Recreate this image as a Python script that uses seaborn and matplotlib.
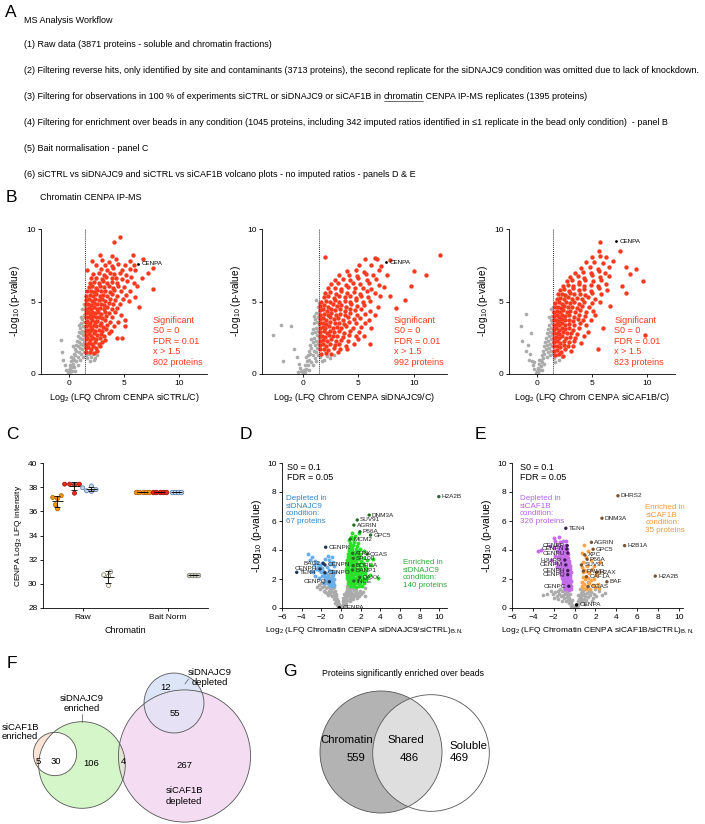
import numpy as np
import pandas as pd
import matplotlib
matplotlib.use("Agg")
import matplotlib.pyplot as plt
import seaborn as sns
from matplotlib.patches import Circle

W, H = 705, 824

# ---------------- panel A: workflow text
workflow_title = "MS Analysis Workflow"
workflow_steps = [
    "(1) Raw data (3871 proteins - soluble and chromatin fractions)",
    "(2) Filtering reverse hits, only identified by site and contaminants (3713 proteins), the second replicate for the siDNAJC9 condition was omitted due to lack of knockdown.",
    ("(3) Filtering for observations in 100 % of experiments siCTRL or siDNAJC9 or siCAF1B in ", "chromatin",
     " CENPA IP-MS replicates (1395 proteins)"),
    "(4) Filtering for enrichment over beads in any condition (1045 proteins, including 342 imputed ratios identified in \u22641 replicate in the bead only condition)  - panel B",
    "(5) Bait normalisation - panel C",
    "(6) siCTRL vs siDNAJC9 and siCTRL vs siCAF1B volcano plots - no imputed ratios - panels D & E",
]

# ---------------- panel B: enrichment over beads
b_names = ["siCTRL", "siDNAJC9", "siCAF1B"]
b_counts = [802, 992, 823]
b_cenpa = [(6.25, 7.6), (7.5, 7.7), (7.2, 9.15)]

b1_grey = [(-0.7, 2.35), (0.0, 0.1), (0.05, 0.25), (-0.1, 0.15), (0.1, 0.4), (-0.2, 0.3), (0.2, 0.2), (0.15, 0.6),
           (0.3, 0.5), (0.25, 0.9), (0.35, 1.1), (0.4, 0.7), (0.45, 1.4), (0.5, 1.0), (0.55, 1.7), (0.5, 0.5),
           (0.6, 1.3), (0.65, 2.0), (0.7, 0.9), (0.7, 1.6), (0.75, 2.3), (0.8, 1.2), (0.8, 1.9), (0.85, 2.6),
           (0.9, 1.5), (0.9, 2.2), (0.95, 2.9), (1.0, 1.0), (1.0, 1.8), (1.0, 2.5), (1.05, 3.2), (1.1, 1.4),
           (1.1, 2.1), (1.1, 2.8), (1.15, 3.5), (1.2, 1.7), (1.2, 2.4), (1.2, 3.0), (1.25, 3.8), (1.3, 1.2),
           (1.3, 2.0), (1.3, 2.7), (1.3, 3.3), (1.35, 4.1), (1.4, 1.5), (1.4, 2.2), (1.4, 2.9), (1.4, 3.6),
           (1.45, 4.4), (1.45, 1.9), (1.45, 2.6), (1.45, 3.2), (1.45, 3.9), (1.5, 4.7), (0.6, 0.2), (-0.35, 0.6),
           (-0.5, 1.0), (0.85, 0.6), (1.6, 1.3), (1.8, 1.4), (2.0, 1.2), (2.2, 1.35), (2.4, 1.1), (2.6, 1.3),
           (1.7, 1.1), (1.9, 0.9), (2.3, 0.95), (0.2, 1.2), (0.4, 1.9), (0.3, 0.2), (-0.6, 1.5), (0.95, 3.4),
           (1.1, 3.9), (1.25, 4.5), (1.35, 4.8)]
b1_red = [(1.6, 1.5), (1.9, 1.55), (2.3, 1.45), (2.6, 1.6),
          (1.55, 1.8), (1.75, 1.85), (2.0, 1.75), (2.2, 1.9), (2.5, 1.8), (2.8, 1.95),
          (1.6, 2.1), (1.8, 2.15), (2.1, 2.05), (2.4, 2.2), (2.7, 2.1), (3.0, 2.2),
          (1.55, 2.4), (1.7, 2.45), (1.95, 2.35), (2.2, 2.5), (2.5, 2.4), (2.8, 2.45), (3.3, 2.35), (4.4, 2.45), (4.8, 2.45),
          (1.6, 2.7), (1.85, 2.75), (2.05, 2.65), (2.3, 2.8), (2.6, 2.7), (2.9, 2.75), (3.2, 2.65), (3.6, 2.8),
          (1.55, 3.0), (1.75, 3.05), (1.95, 2.95), (2.15, 3.1), (2.4, 3.0), (2.7, 3.05), (3.0, 2.95), (3.4, 3.1), (3.8, 3.0),
          (1.6, 3.3), (1.8, 3.35), (2.0, 3.25), (2.25, 3.4), (2.5, 3.3), (2.8, 3.35), (3.1, 3.25), (3.5, 3.4), (4.1, 3.3), (5.1, 3.3),
          (1.55, 3.6), (1.7, 3.65), (1.9, 3.55), (2.1, 3.7), (2.35, 3.6), (2.6, 3.65), (2.9, 3.55), (3.3, 3.7), (3.7, 3.6), (4.5, 3.6),
          (1.6, 3.9), (1.8, 3.95), (2.0, 3.85), (2.2, 4.0), (2.45, 3.9), (2.75, 3.95), (3.0, 3.85), (3.4, 4.0), (3.9, 3.9), (5.05, 3.75),
          (1.55, 4.2), (1.75, 4.25), (1.95, 4.15), (2.15, 4.3), (2.4, 4.2), (2.65, 4.25), (2.95, 4.15), (3.25, 4.3), (3.6, 4.2), (4.2, 4.25), (4.7, 4.1),
          (1.6, 4.5), (1.8, 4.55), (2.0, 4.45), (2.3, 4.6), (2.55, 4.5), (2.85, 4.55), (3.15, 4.45), (3.5, 4.6), (3.9, 4.5), (4.4, 4.55), (6.35, 4.65),
          (1.55, 4.8), (1.75, 4.85), (2.05, 4.75), (2.3, 4.9), (2.6, 4.8), (2.9, 4.85), (3.2, 4.75), (3.6, 4.9), (4.0, 4.8), (4.6, 4.85), (5.45, 5.05),
          (1.6, 5.1), (1.85, 5.15), (2.1, 5.05), (2.4, 5.2), (2.7, 5.1), (3.0, 5.15), (3.3, 5.05), (3.7, 5.2), (4.2, 5.1), (4.9, 5.15),
          (1.6, 5.4), (1.9, 5.45), (2.2, 5.35), (2.5, 5.5), (2.8, 5.4), (3.1, 5.45), (3.5, 5.35), (3.9, 5.5), (4.4, 5.4), (5.2, 5.45), (6.0, 5.3),
          (1.7, 5.7), (2.0, 5.75), (2.3, 5.65), (2.6, 5.8), (2.95, 5.7), (3.3, 5.75), (3.7, 5.65), (4.1, 5.8), (4.7, 5.7), (5.5, 5.75), (7.65, 5.85),
          (1.8, 6.0), (2.1, 6.05), (2.45, 5.95), (2.8, 6.1), (3.2, 6.0), (3.6, 6.05), (4.0, 5.95), (4.5, 6.1), (5.0, 6.0), (6.2, 6.05),
          (1.9, 6.3), (2.3, 6.35), (2.7, 6.25), (3.1, 6.4), (3.5, 6.3), (3.9, 6.35), (4.4, 6.25), (5.3, 6.4), (5.9, 6.3),
          (2.0, 6.6), (2.5, 6.65), (3.0, 6.55), (3.4, 6.7), (3.9, 6.6), (4.3, 6.65), (4.8, 6.55), (5.6, 6.7), (6.6, 6.6),
          (2.2, 6.9), (2.7, 6.95), (3.2, 6.85), (3.7, 7.0), (4.1, 6.9), (4.6, 6.95), (5.2, 6.85), (7.2, 7.0),
          (1.7, 7.2), (2.9, 7.25), (3.5, 7.15), (4.0, 7.3), (4.8, 7.2), (5.5, 7.25), (6.0, 7.15), (7.65, 7.3),
          (2.5, 7.5), (3.3, 7.55), (3.9, 7.45), (4.5, 7.6), (5.1, 7.5), (5.9, 7.55),
          (2.1, 7.8), (3.0, 7.85), (3.6, 7.75), (4.3, 7.9), (5.5, 7.8), (6.75, 7.9),
          (2.85, 8.2), (3.9, 8.15), (5.85, 8.2), (4.1, 9.1), (4.65, 9.43)]

b2_grey = [(-2.7, 2.7), (-1.9, 3.4), (-1.75, 0.9), (-1.05, 3.3), (0.0, 0.1), (0.1, 0.3), (-0.1, 0.2), (0.2, 0.15),
           (-0.2, 0.4), (0.25, 0.6), (-0.3, 0.7), (0.35, 0.35), (0.4, 0.9), (0.45, 1.3), (0.5, 0.6), (0.55, 1.6),
           (0.6, 1.0), (0.65, 2.0), (0.7, 1.4), (0.75, 2.4), (0.8, 0.8), (0.8, 1.8), (0.85, 2.8), (0.9, 1.3),
           (0.9, 2.2), (0.95, 3.1), (1.0, 1.6), (1.0, 2.5), (1.05, 3.5), (1.1, 1.1), (1.1, 2.0), (1.1, 2.9),
           (1.15, 3.8), (1.2, 1.5), (1.2, 2.3), (1.2, 3.2), (1.25, 4.2), (1.3, 1.8), (1.3, 2.7), (1.3, 3.6),
           (1.35, 4.6), (1.4, 1.3), (1.4, 2.1), (1.4, 3.0), (1.4, 3.9), (1.45, 4.9), (1.45, 1.7), (1.45, 2.5),
           (1.45, 3.4), (1.45, 4.3), (-0.5, 1.2), (-0.8, 1.7), (0.3, 1.2), (1.6, 1.2), (1.9, 1.0), (2.2, 1.25),
           (2.5, 1.1), (1.75, 0.9), (2.8, 1.3), (0.6, 0.3), (-0.4, 0.15), (0.95, 0.6), (1.2, 0.9), (1.05, 4.0),
           (1.25, 5.1)]
b2_red = [(1.7, 1.4), (2.1, 1.45), (2.6, 1.35), (3.2, 1.5),
          (1.6, 1.7), (1.9, 1.75), (2.3, 1.65), (2.8, 1.8), (3.4, 1.7), (4.0, 1.75),
          (1.55, 2.0), (1.8, 2.05), (2.1, 1.95), (2.5, 2.1), (2.9, 2.0), (3.3, 2.05), (3.9, 1.95), (4.6, 2.1), (6.1, 2.1),
          (1.6, 2.3), (1.85, 2.35), (2.2, 2.25), (2.6, 2.4), (3.0, 2.3), (3.5, 2.35), (4.1, 2.25), (5.0, 2.4),
          (1.55, 2.6), (1.75, 2.65), (2.0, 2.55), (2.35, 2.7), (2.7, 2.6), (3.1, 2.65), (3.6, 2.55), (4.2, 2.7), (4.8, 2.6), (5.5, 2.65),
          (1.6, 2.9), (1.9, 2.95), (2.2, 2.85), (2.5, 3.0), (2.85, 2.9), (3.25, 2.95), (3.7, 2.85), (4.3, 3.0), (5.1, 2.9),
          (1.55, 3.2), (1.8, 3.25), (2.05, 3.15), (2.4, 3.3), (2.75, 3.2), (3.1, 3.25), (3.5, 3.15), (3.95, 3.3), (4.5, 3.2), (5.3, 3.25), (6.2, 3.15),
          (1.6, 3.5), (1.85, 3.55), (2.15, 3.45), (2.5, 3.6), (2.9, 3.5), (3.3, 3.55), (3.75, 3.45), (4.2, 3.6), (4.8, 3.5), (5.6, 3.55),
          (1.55, 3.8), (1.8, 3.85), (2.1, 3.75), (2.45, 3.9), (2.8, 3.8), (3.2, 3.85), (3.6, 3.75), (4.05, 3.9), (4.6, 3.8), (5.2, 3.85), (6.0, 3.75),
          (1.6, 4.1), (1.9, 4.15), (2.25, 4.05), (2.6, 4.2), (3.0, 4.1), (3.4, 4.15), (3.85, 4.05), (4.3, 4.2), (4.9, 4.1), (5.6, 4.15), (6.5, 4.05),
          (1.55, 4.4), (1.85, 4.45), (2.2, 4.35), (2.55, 4.5), (2.95, 4.4), (3.35, 4.45), (3.8, 4.35), (4.25, 4.5), (4.75, 4.4), (5.3, 4.45), (6.1, 4.35), (8.4, 4.55),
          (1.6, 4.7), (1.95, 4.75), (2.3, 4.65), (2.7, 4.8), (3.1, 4.7), (3.5, 4.75), (3.95, 4.65), (4.4, 4.8), (4.9, 4.7), (5.5, 4.75), (6.8, 4.65),
          (1.7, 5.0), (2.1, 5.05), (2.5, 4.95), (2.9, 5.1), (3.3, 5.0), (3.8, 5.05), (4.3, 4.95), (4.8, 5.1), (5.4, 5.0), (6.1, 5.05), (9.2, 5.1),
          (1.9, 5.3), (2.3, 5.35), (2.8, 5.25), (3.3, 5.4), (3.8, 5.3), (4.3, 5.35), (4.8, 5.25), (5.3, 5.4), (5.9, 5.3), (7.0, 5.35), (7.9, 5.4),
          (2.0, 5.6), (2.5, 5.65), (3.0, 5.55), (3.5, 5.7), (4.0, 5.6), (4.6, 5.65), (5.2, 5.55), (5.8, 5.7), (6.5, 5.6),
          (2.3, 5.9), (2.9, 5.95), (3.5, 5.85), (4.1, 6.0), (4.7, 5.9), (5.4, 5.95), (6.2, 5.85), (7.3, 6.0),
          (2.6, 6.2), (3.2, 6.25), (3.9, 6.15), (4.5, 6.3), (5.2, 6.2), (6.0, 6.25), (6.9, 6.15), (9.8, 6.1),
          (2.9, 6.5), (3.6, 6.55), (4.3, 6.45), (5.0, 6.6), (5.8, 6.5), (6.6, 6.55),
          (3.3, 6.8), (4.2, 6.85), (4.9, 6.75), (5.7, 6.9), (6.3, 6.8), (7.6, 6.85), (11.1, 6.85),
          (4.0, 7.1), (4.8, 7.15), (5.5, 7.05), (6.9, 7.2), (10.0, 7.1),
          (5.1, 7.5), (6.2, 7.55), (7.1, 7.45), (5.6, 7.9), (6.7, 7.95), (7.9, 7.85),
          (2.0, 8.1), (6.5, 8.0), (12.4, 8.2)]

b3_grey = [(-0.97, 4.15), (-1.4, 3.3), (-1.3, 2.25), (-0.5, 2.8), (-0.1, 0.1), (0.0, 0.2), (0.1, 0.05), (-0.2, 0.35),
           (0.15, 0.4), (-0.3, 0.6), (0.25, 0.7), (0.3, 0.25), (-0.4, 0.9), (0.35, 1.0), (0.4, 0.55), (0.45, 1.3),
           (0.5, 0.85), (0.55, 1.6), (0.6, 1.1), (0.65, 1.9), (0.7, 0.7), (0.7, 1.4), (0.75, 2.2), (0.8, 1.7),
           (0.85, 2.5), (0.9, 1.2), (0.9, 2.0), (0.95, 2.8), (1.0, 1.5), (1.0, 2.3), (1.05, 3.1), (1.1, 1.8),
           (1.1, 2.6), (1.15, 3.4), (1.2, 1.3), (1.2, 2.1), (1.2, 2.9), (1.25, 3.7), (1.3, 1.6), (1.3, 2.4),
           (1.3, 3.2), (1.35, 4.0), (1.4, 1.9), (1.4, 2.7), (1.4, 3.5), (1.45, 4.3), (1.45, 1.4), (1.45, 2.2),
           (1.45, 3.0), (1.45, 3.8), (1.5, 4.6), (-0.6, 1.4), (-0.8, 2.0), (0.2, 1.0), (1.6, 1.1), (1.8, 1.3),
           (2.0, 1.0), (2.3, 1.2), (1.7, 0.8), (-0.2, 0.8), (0.5, 0.3), (1.3, 4.5), (1.1, 3.9), (-0.7, 1.0),
           (-1.0, 1.6)]
b3_red = [(1.7, 1.3), (2.0, 1.35), (2.4, 1.25),
          (1.6, 1.6), (1.85, 1.65), (2.2, 1.55), (2.6, 1.7), (3.1, 1.6),
          (1.55, 1.9), (1.8, 1.95), (2.1, 1.85), (2.45, 2.0), (2.8, 1.9), (3.3, 1.95), (5.5, 1.7),
          (1.6, 2.2), (1.85, 2.25), (2.15, 2.15), (2.5, 2.3), (2.9, 2.2), (3.4, 2.25), (4.0, 2.15),
          (1.55, 2.5), (1.75, 2.55), (2.0, 2.45), (2.3, 2.6), (2.65, 2.5), (3.0, 2.55), (3.5, 2.45), (4.3, 2.6),
          (1.6, 2.8), (1.8, 2.85), (2.05, 2.75), (2.35, 2.9), (2.7, 2.8), (3.1, 2.85), (3.6, 2.75), (4.6, 2.9), (9.8, 2.7),
          (1.55, 3.1), (1.75, 3.15), (2.0, 3.05), (2.25, 3.2), (2.55, 3.1), (2.9, 3.15), (3.3, 3.05), (3.8, 3.2), (6.0, 3.2),
          (1.6, 3.4), (1.8, 3.45), (2.05, 3.35), (2.3, 3.5), (2.6, 3.4), (2.95, 3.45), (3.35, 3.35), (3.9, 3.5), (4.5, 3.4),
          (1.55, 3.7), (1.75, 3.75), (2.0, 3.65), (2.25, 3.8), (2.55, 3.7), (2.9, 3.75), (3.3, 3.65), (3.75, 3.8), (4.2, 3.7), (4.9, 3.75),
          (1.6, 4.0), (1.8, 4.05), (2.05, 3.95), (2.3, 4.1), (2.6, 4.0), (2.95, 4.05), (3.35, 3.95), (3.8, 4.1), (4.4, 4.0), (5.3, 4.05),
          (1.6, 4.3), (1.85, 4.35), (2.1, 4.25), (2.4, 4.4), (2.7, 4.3), (3.05, 4.35), (3.45, 4.25), (3.9, 4.4), (4.5, 4.3), (5.1, 4.35),
          (1.65, 4.6), (1.9, 4.65), (2.2, 4.55), (2.5, 4.7), (2.85, 4.6), (3.2, 4.65), (3.6, 4.55), (4.1, 4.7), (4.7, 4.6), (6.6, 4.7),
          (1.7, 4.9), (2.0, 4.95), (2.3, 4.85), (2.65, 5.0), (3.0, 4.9), (3.4, 4.95), (3.85, 4.85), (4.3, 5.0), (5.0, 4.9), (5.7, 4.95),
          (1.8, 5.2), (2.1, 5.25), (2.45, 5.15), (2.8, 5.3), (3.2, 5.2), (3.6, 5.25), (4.1, 5.15), (4.6, 5.3), (5.3, 5.2),
          (1.9, 5.5), (2.25, 5.55), (2.6, 5.45), (3.0, 5.6), (3.4, 5.5), (3.9, 5.55), (4.4, 5.45), (5.0, 5.6), (5.8, 5.5), (8.1, 5.6),
          (2.1, 5.8), (2.5, 5.85), (2.9, 5.75), (3.3, 5.9), (3.8, 5.8), (4.3, 5.85), (4.9, 5.75), (5.6, 5.9), (6.4, 5.8), (7.7, 6.05),
          (2.4, 6.1), (2.8, 6.15), (3.3, 6.05), (3.8, 6.2), (4.3, 6.1), (4.9, 6.15), (5.5, 6.05), (6.3, 6.2),
          (2.7, 6.4), (3.2, 6.45), (3.8, 6.35), (4.4, 6.5), (5.1, 6.4), (5.8, 6.45), (9.6, 6.4),
          (3.0, 6.7), (3.7, 6.75), (4.3, 6.65), (5.0, 6.8), (5.7, 6.7), (6.5, 6.75), (8.4, 6.9),
          (3.5, 7.0), (4.2, 7.05), (4.9, 6.95), (5.6, 7.1), (6.2, 7.0),
          (4.0, 7.3), (4.8, 7.35), (5.5, 7.25), (6.5, 7.4), (8.1, 7.4), (8.95, 7.25),
          (4.5, 7.7), (5.2, 7.75), (6.0, 7.65), (6.9, 7.8), (5.0, 8.1), (5.7, 8.15), (6.3, 8.05),
          (5.6, 8.5), (7.5, 8.5), (5.7, 9.1)]

# ---------------- panel C: CENPA LFQ intensity
c_states = ["Raw", "Bait Norm"]
c_conds = ["siCTRL", "siDNAJC9", "siCAF1B", "Beads"]
c_raw_ctrl = [37.3, 37.15, 37.05, 36.55, 36.2]
c_raw_dnajc9 = [38.25, 38.25, 38.25, 38.2, 37.5]
c_raw_caf1b = [38.1, 37.95, 37.8, 37.7, 37.65]
c_raw_beads = [31.0, 30.75, 30.65, 29.85]
c_norm_ctrl = [37.6, 37.6, 37.6, 37.6, 37.6]
c_norm_dnajc9 = [37.6, 37.6, 37.6, 37.6, 37.6]
c_norm_caf1b = [37.6, 37.6, 37.6, 37.6]
c_norm_beads = [30.7, 30.7, 30.7, 30.7]

# ---------------- panel D: siDNAJC9 vs siCTRL
d_grey = [(-0.1, 0.1), (-0.2, 0.25), (-0.25, 0.15), (-0.3, 0.45), (-0.35, 0.3), (-0.4, 0.6), (-0.45, 0.4),
          (-0.5, 0.8), (-0.5, 0.55), (-0.55, 1.0), (-0.6, 0.7), (-0.65, 1.2), (-0.7, 0.9), (-0.7, 1.45),
          (-0.75, 0.6), (-0.8, 1.1), (-0.8, 1.7), (-0.85, 1.35), (-0.9, 0.8), (-0.9, 1.9), (-0.95, 1.55),
          (-1.0, 1.15), (-1.0, 2.1), (-1.05, 1.75), (-1.1, 0.95), (-1.1, 1.4), (-1.15, 2.0), (-1.2, 1.6),
          (-1.25, 1.2), (-1.3, 1.85), (-1.35, 1.45), (-1.4, 2.1), (-1.45, 1.05), (-1.5, 1.7), (-1.55, 1.35),
          (-1.6, 1.95), (-1.7, 1.55), (-1.75, 1.2), (-1.8, 1.8), (-1.9, 1.45), (-2.0, 1.7), (-2.1, 1.3),
          (-2.2, 1.6), (-2.4, 1.45), (-0.6, 0.35), (-1.3, 0.9), (-0.4, 0.2), (-1.6, 1.1), (-1.2, 2.3), (-0.95, 2.3),
          (0.1, 0.15), (0.15, 0.05), (0.2, 0.3), (0.25, 0.5), (0.3, 0.2), (0.35, 0.7), (0.4, 0.45), (0.45, 0.9),
          (0.5, 0.6), (0.5, 1.1), (0.55, 0.35), (0.6, 1.3), (0.6, 0.8), (0.65, 1.5), (0.7, 1.0), (0.7, 0.55),
          (0.75, 1.25), (0.8, 0.8), (0.8, 1.6), (0.85, 1.05), (0.9, 1.4), (0.9, 0.65), (0.95, 1.2), (1.0, 0.9),
          (1.0, 1.5), (1.05, 1.1), (1.1, 0.75), (1.1, 1.35), (1.2, 1.0), (1.2, 1.55), (1.3, 0.85), (1.3, 1.25),
          (1.4, 1.05), (1.4, 1.45), (1.5, 0.9), (1.55, 1.25), (1.6, 0.7), (1.7, 1.05), (1.8, 0.85), (1.9, 1.2),
          (2.0, 0.95), (2.2, 1.1), (2.4, 0.8), (2.5, 1.35), (0.4, 0.15), (0.95, 0.45), (1.25, 0.6), (0.3, 0.95),
          (0.2, 0.7)]
d_down = [(-3.4, 3.7), (-2.9, 3.55), (-3.1, 3.3), (-2.6, 3.25), (-2.4, 3.1), (-2.7, 2.95), (-2.3, 2.85),
          (-2.1, 2.95), (-2.5, 2.7), (-2.2, 2.6), (-1.9, 2.75), (-2.0, 2.45), (-1.8, 2.55), (-1.7, 2.3),
          (-1.9, 2.2), (-1.6, 2.15), (-1.5, 2.4), (-1.4, 2.0), (-1.55, 1.9), (-1.3, 2.2), (-1.2, 1.85),
          (-1.35, 1.7), (-1.1, 1.95), (-1.0, 1.75), (-1.15, 1.6), (-0.9, 1.55), (-0.95, 2.05), (-0.85, 1.8),
          (-0.75, 1.6), (-0.8, 2.25), (-0.7, 2.0), (-0.65, 2.5), (-0.9, 2.55), (-1.05, 2.45), (-1.25, 2.65),
          (-1.45, 2.8), (-1.1, 3.05), (-0.85, 3.2), (-1.25, 3.3), (-0.95, 3.55), (-2.6, 2.2), (-2.2, 2.05),
          (-1.75, 1.75), (-2.8, 2.5), (-1.6, 3.4), (-1.35, 3.6), (-0.7, 2.9), (-1.95, 3.1), (-3.0, 2.55)]
d_up = [(0.9, 1.5), (1.2, 1.55), (1.5, 1.45), (1.8, 1.5), (2.1, 1.55),
        (0.75, 1.7), (1.0, 1.75), (1.3, 1.65), (1.6, 1.7), (1.9, 1.75), (2.3, 1.7),
        (0.7, 1.9), (0.95, 1.95), (1.2, 1.85), (1.45, 1.9), (1.7, 1.95), (2.0, 1.85), (2.5, 1.9), (3.75, 2.1),
        (0.65, 2.1), (0.85, 2.15), (1.1, 2.05), (1.35, 2.1), (1.6, 2.15), (1.85, 2.05), (2.2, 2.1), (2.7, 2.15),
        (0.6, 2.3), (0.8, 2.35), (1.0, 2.25), (1.25, 2.3), (1.5, 2.35), (1.75, 2.25), (2.05, 2.3), (2.4, 2.35), (3.0, 2.3),
        (0.6, 2.5), (0.8, 2.55), (1.05, 2.45), (1.3, 2.5), (1.55, 2.55), (1.8, 2.45), (2.1, 2.5), (2.5, 2.55),
        (0.55, 2.7), (0.75, 2.75), (0.95, 2.65), (1.2, 2.7), (1.45, 2.75), (1.7, 2.65), (2.0, 2.7), (2.6, 2.75),
        (0.6, 2.9), (0.85, 2.95), (1.1, 2.85), (1.35, 2.9), (1.6, 2.95), (1.9, 2.85), (2.3, 2.9), (3.1, 2.95),
        (0.6, 3.1), (0.8, 3.15), (1.05, 3.05), (1.3, 3.1), (1.55, 3.15), (1.85, 3.05), (2.2, 3.1),
        (0.65, 3.3), (0.9, 3.35), (1.15, 3.25), (1.4, 3.3), (1.7, 3.35), (2.0, 3.25), (2.7, 3.3), (3.3, 3.4),
        (0.7, 3.5), (0.95, 3.55), (1.2, 3.45), (1.5, 3.5), (1.8, 3.55), (2.2, 3.45),
        (0.75, 3.7), (1.0, 3.75), (1.3, 3.65), (1.6, 3.7), (1.95, 3.75),
        (0.8, 3.9), (1.1, 3.95), (1.4, 3.85), (1.75, 3.9), (2.3, 3.95),
        (0.85, 4.1), (1.15, 4.15), (1.5, 4.05), (1.9, 4.1),
        (0.9, 4.3), (1.25, 4.35), (1.6, 4.25), (0.95, 4.5), (1.35, 4.55), (1.75, 4.45),
        (0.85, 4.7), (1.2, 4.75), (1.0, 4.9), (1.45, 4.95), (1.15, 5.2), (1.85, 5.15)]
d_label_names = ["H2A2B", "DNM3A", "SUV91", "AGRIN", "P66A", "GPC5", "MCM2", "ATRX", "CGAS", "SP100", "BOREA",
                 "BANP1", "DAXX", "INCE", "CENPK", "BAG2", "CENPN", "CENPH", "TEN4", "CENPO", "CENPQ", "CENPA"]
d_label_x = [9.97, 2.88, 1.66, 1.32, 1.93, 3.02, 0.95, 1.19, 2.68, 1.25, 1.25, 1.19, 1.93, 1.32, -1.55, -1.8,
             -1.63, -2.13, -4.5, -1.63, -1.18, -0.16]
d_label_y = [7.68, 6.41, 6.07, 5.72, 5.26, 5.03, 4.75, 3.77, 3.72, 3.43, 2.92, 2.62, 2.11, 1.86, 4.19, 3.08,
             2.97, 2.69, 2.46, 2.43, 1.81, 0.02]
d_counts = [67, 140]

# ---------------- panel E: siCAF1B vs siCTRL
e_grey = [(-0.1, 0.1), (-0.2, 0.2), (-0.3, 0.35), (-0.35, 0.15), (-0.4, 0.5), (-0.5, 0.7), (-0.5, 0.35),
          (-0.6, 0.9), (-0.65, 0.55), (-0.7, 1.1), (-0.75, 0.75), (-0.8, 1.3), (-0.85, 0.45), (-0.9, 0.95),
          (-0.95, 1.2), (-1.0, 0.7), (-1.05, 1.4), (-1.1, 0.9), (-1.2, 1.15), (-1.3, 0.8), (-1.35, 1.3),
          (-1.45, 1.0), (-1.6, 1.2), (-1.7, 0.85), (-1.9, 1.1), (-2.1, 0.95), (-2.3, 1.2), (-2.6, 1.0),
          (-3.0, 0.9), (-1.2, 0.5), (-0.25, 0.55), (-0.45, 1.0), (-0.6, 1.3), (-1.55, 0.6), (-2.0, 0.7),
          (0.1, 0.1), (0.2, 0.25), (0.25, 0.05), (0.3, 0.45), (0.35, 0.2), (0.4, 0.65), (0.45, 0.35), (0.5, 0.85),
          (0.55, 0.5), (0.6, 1.05), (0.65, 0.7), (0.7, 1.25), (0.75, 0.45), (0.8, 0.9), (0.85, 1.15), (0.9, 0.6),
          (0.95, 1.0), (1.0, 0.8), (1.05, 1.3), (1.1, 0.55), (1.2, 1.05), (1.3, 0.75), (1.4, 1.2), (1.5, 0.9),
          (1.6, 1.1), (1.75, 0.7), (1.9, 1.0), (2.1, 0.85), (2.3, 1.15), (2.6, 0.9), (2.9, 1.05), (1.3, 1.8),
          (1.0, 0.3), (0.55, 1.3), (0.35, 0.9), (2.0, 1.3), (1.65, 0.5)]
e_down = [(-0.9, 1.3), (-0.7, 1.35), (-0.5, 1.25), (-0.35, 1.3),
          (-1.0, 1.5), (-0.8, 1.55), (-0.6, 1.45), (-0.45, 1.5), (-0.3, 1.55),
          (-1.1, 1.7), (-0.9, 1.75), (-0.7, 1.65), (-0.55, 1.7), (-0.4, 1.75),
          (-1.15, 1.9), (-0.95, 1.95), (-0.8, 1.85), (-0.65, 1.9), (-0.5, 1.95), (-0.35, 1.85),
          (-1.2, 2.1), (-1.0, 2.15), (-0.85, 2.05), (-0.7, 2.1), (-0.55, 2.15), (-0.4, 2.05),
          (-1.3, 2.3), (-1.1, 2.35), (-0.9, 2.25), (-0.75, 2.3), (-0.6, 2.35), (-0.45, 2.25),
          (-1.35, 2.5), (-1.15, 2.55), (-0.95, 2.45), (-0.8, 2.5), (-0.65, 2.55), (-0.5, 2.45), (-0.35, 2.5),
          (-1.4, 2.7), (-1.2, 2.75), (-1.0, 2.65), (-0.85, 2.7), (-0.7, 2.75), (-0.55, 2.65), (-0.4, 2.7),
          (-1.45, 2.9), (-1.25, 2.95), (-1.05, 2.85), (-0.9, 2.9), (-0.75, 2.95), (-0.6, 2.85), (-0.45, 2.9),
          (-1.3, 3.1), (-1.1, 3.15), (-0.95, 3.05), (-0.8, 3.1), (-0.65, 3.15), (-0.5, 3.05),
          (-1.4, 3.3), (-1.2, 3.35), (-1.0, 3.25), (-0.85, 3.3), (-0.7, 3.35), (-0.55, 3.25),
          (-1.6, 3.5), (-1.3, 3.55), (-1.1, 3.45), (-0.9, 3.5), (-0.75, 3.55), (-0.6, 3.45),
          (-1.5, 3.7), (-1.2, 3.75), (-1.0, 3.65), (-0.8, 3.7), (-0.65, 3.75),
          (-3.5, 3.9), (-1.7, 3.95), (-1.35, 3.85), (-1.1, 3.9), (-0.9, 3.95), (-0.7, 3.85),
          (-3.2, 4.0), (-2.0, 4.15), (-1.5, 4.05), (-1.2, 4.1), (-0.95, 4.15), (-0.75, 4.05),
          (-2.4, 4.3), (-1.7, 4.35), (-1.3, 4.25), (-1.0, 4.3), (-0.8, 4.35),
          (-1.9, 4.6), (-1.4, 4.55), (-1.1, 4.65), (-0.85, 4.6), (-2.0, 4.8), (-1.53, 4.87),
          (-1.9, 3.6), (-2.3, 3.3), (-1.8, 3.1), (-1.7, 2.8)]
e_up = [(0.9, 4.35), (0.7, 3.8), (1.3, 3.95), (1.05, 3.5), (0.8, 3.2), (1.6, 3.3), (0.75, 2.85), (0.95, 2.65),
        (0.85, 2.45), (1.1, 2.55), (1.4, 2.4), (1.7, 2.7), (2.3, 2.5), (2.45, 3.2), (0.8, 2.15), (1.0, 2.0),
        (1.25, 2.1), (1.6, 1.95), (1.9, 2.0), (2.1, 2.3), (0.75, 1.8), (0.95, 1.65), (1.15, 1.5), (1.4, 1.75),
        (1.75, 1.6), (2.0, 1.45), (2.3, 1.35), (0.85, 1.4), (1.05, 1.3), (1.5, 1.3), (0.7, 1.55), (1.85, 2.9),
        (2.2, 1.65), (1.2, 2.9)]
e_label_names = ["DHRS2", "DNM3A", "TEN4", "AGRIN", "H2B1A", "GPC5", "XPC", "P66A", "SUV91", "PAWR", "H2AX",
                 "CAF1A", "BAF", "CGAS", "H2A2B", "CENPA", "CENPP", "CENPN", "CENPU", "HJURP", "CENPM", "CENPH",
                 "CENPQ", "CENPC"]
e_label_x = [4.16, 2.63, -0.84, 1.62, 4.8, 1.78, 0.98, 1.2, 0.66, 0.85, 2.1, 1.14, 3.1, 1.3, 7.74, 0.19, -0.71,
             -0.74, -0.65, -0.93, -0.84, -0.65, -0.65, -0.55]
e_label_y = [7.74, 6.19, 5.5, 4.53, 4.3, 4.05, 3.66, 3.36, 2.97, 2.55, 2.45, 2.16, 1.81, 1.47, 2.2, 0.21, 4.3,
             4.07, 3.79, 3.31, 2.97, 2.58, 2.3, 1.5]
e_counts = [326, 35]

# ---------------- panel F / G: overlaps
f_caf1b_up_only, f_shared_up, f_dnajc9_up_only, f_up_down = 5, 30, 106, 4
f_dnajc9_down_only, f_shared_down, f_caf1b_down_only = 12, 55, 267
g_chromatin_only, g_shared, g_soluble_only = 559, 486, 469

# ---------------- style
sns.set_theme(style="ticks")
plt.rcParams["font.family"] = ["Liberation Sans", "DejaVu Sans"]
plt.rcParams["mathtext.fontset"] = "custom"
plt.rcParams["mathtext.rm"] = "Liberation Sans"
plt.rcParams["mathtext.it"] = "Liberation Sans:italic"
plt.rcParams["mathtext.bf"] = "Liberation Sans:bold"
for key in ["text.color", "axes.labelcolor", "xtick.color", "ytick.color", "axes.edgecolor"]:
    plt.rcParams[key] = "black"
plt.rcParams["axes.linewidth"] = 0.6

GREY = "#ABABAB"
RED = "#FA3A1E"


def px_rect(l, t, r, b):
    return [l / W, 1 - b / H, (r - l) / W, (b - t) / H]


def finish(ax, labelsize=6):
    sns.despine(ax=ax)
    ax.tick_params(length=2.5, width=0.6, labelsize=labelsize, pad=1.5)
    ax.grid(False)


def pts(pairs):
    return pd.DataFrame(pairs, columns=["x", "y"])


fig = plt.figure(figsize=(W / 100, H / 100), dpi=100)

# ---------------- B
b_rects = [(41, 229, 207, 374), (262, 229, 447, 374), (509, 229, 675, 374)]
b_xlims = [(-2.5, 12.5), (-3.65, 13.0), (-2.5, 12.5)]
b_text_x = [7.6, 8.2, 7.0]
for i, (grey, red) in enumerate([(b1_grey, b1_red), (b2_grey, b2_red), (b3_grey, b3_red)]):
    ax = fig.add_axes(px_rect(*b_rects[i]))
    sns.scatterplot(data=pts(grey), x="x", y="y", color=GREY, s=7, linewidth=0, ax=ax, legend=False)
    sns.scatterplot(data=pts(red), x="x", y="y", color=RED, s=10, linewidth=0, ax=ax, legend=False)
    ax.axvline(1.5, color="#333333", lw=0.7, ls=(0, (1, 1)))
    cx, cy = b_cenpa[i]
    sns.scatterplot(x=[cx], y=[cy], color="black", s=4, linewidth=0, ax=ax, legend=False)
    ax.annotate("CENPA", (cx, cy), xytext=(2.5, 0), textcoords="offset points", fontsize=4.5, va="center")
    ax.text(b_text_x[i], 4.0, f"Significant\nS0 = 0\nFDR = 0.01\nx > 1.5\n{b_counts[i]} proteins",
            color=RED, fontsize=6.5, va="top", ha="left", linespacing=1.2)
    ax.set_xlim(*b_xlims[i])
    ax.set_ylim(0, 10)
    ax.set_xticks([0, 5, 10])
    ax.set_yticks([0, 5, 10])
    ax.set_xlabel(f"Log$_2$ (LFQ Chrom CENPA {b_names[i]}/C)", fontsize=6.5, labelpad=3)
    ax.set_ylabel("-Log$_{10}$ (p-value)", fontsize=7.2, labelpad=3)
    finish(ax)

# ---------------- C
c_values = {
    ("Raw", "siCTRL"): c_raw_ctrl, ("Raw", "siDNAJC9"): c_raw_dnajc9,
    ("Raw", "siCAF1B"): c_raw_caf1b, ("Raw", "Beads"): c_raw_beads,
    ("Bait Norm", "siCTRL"): c_norm_ctrl, ("Bait Norm", "siDNAJC9"): c_norm_dnajc9,
    ("Bait Norm", "siCAF1B"): c_norm_caf1b, ("Bait Norm", "Beads"): c_norm_beads,
}
c_fill = {"Raw": {"siCTRL": "#F5960F", "siDNAJC9": "#F0261A", "siCAF1B": "#C4D7F0", "Beads": "#FFFDE6"},
          "Bait Norm": {"siCTRL": "#F5960F", "siDNAJC9": "#F0261A", "siCAF1B": "#C4D7F0", "Beads": "#CDCDC2"}}
c_edge = {"siCTRL": "#A85A00", "siDNAJC9": "#8A0A00", "siCAF1B": "#4F719E", "Beads": "#7A7A6E"}
c_df = pd.concat([pd.DataFrame({"state": s, "cond": c, "value": v}) for (s, c), v in c_values.items()],
                 ignore_index=True)
# group centre on the category axis (same dodge layout as seaborn: 4 hues in 0.8 width)
c_df["centre"] = c_df["state"].map(c_states.index) + (c_df["cond"].map(c_conds.index) - 1.5) * 0.2
# tied normalised values sit side by side, slightly overlapping
c_df["rank"] = c_df.groupby(["state", "cond"]).cumcount()
c_df["n"] = c_df.groupby(["state", "cond"])["value"].transform("size")
c_df["xpos"] = c_df["centre"] + (c_df["rank"] - (c_df["n"] - 1) / 2) * 0.036

axc = fig.add_axes(px_rect(43, 463, 208, 608))
for (state, cond), sub in c_df.groupby(["state", "cond"], sort=False):
    if state == "Raw":
        sns.swarmplot(data=sub, x="state", y="value", hue="cond", order=c_states, hue_order=c_conds,
                      dodge=True, palette=c_fill[state], size=2.9, linewidth=0.5, edgecolor=c_edge[cond],
                      ax=axc, legend=False, warn_thresh=1)
    else:
        sns.scatterplot(data=sub, x="xpos", y="value", color=c_fill[state][cond], s=11, linewidth=0.5,
                        edgecolor=c_edge[cond], ax=axc, legend=False, zorder=3)
stats = c_df.groupby(["state", "cond"], sort=False).agg(mean=("value", "mean"), std=("value", "std"),
                                                        centre=("centre", "first")).reset_index()
for _, row in stats.iterrows():
    xpos = row["centre"]
    axc.errorbar(xpos, row["mean"], yerr=row["std"], fmt="none", ecolor="black", elinewidth=0.6,
                 capsize=2, capthick=0.6, zorder=5)
    axc.hlines(row["mean"], xpos - 0.07, xpos + 0.07, color="black", lw=0.6, zorder=5)
axc.set_xticks([0, 1])
axc.set_xticklabels(c_states)
axc.set_xlim(-0.47, 1.47)
axc.set_ylim(28, 40)
axc.set_yticks(range(28, 41, 2))
axc.set_xlabel("Chromatin", fontsize=6.5, labelpad=4)
axc.set_ylabel("CENPA Log$_2$ LFQ intensity", fontsize=6, labelpad=3)
finish(axc)


# ---------------- D / E
def volcano(ax, grey, down, up, names, lx, ly, colors, left_names, xlim):
    sns.scatterplot(data=pts(grey), x="x", y="y", color=GREY, s=7, linewidth=0, ax=ax, legend=False)
    sns.scatterplot(data=pts(down), x="x", y="y", color=colors["down"], s=8, linewidth=0, ax=ax, legend=False)
    sns.scatterplot(data=pts(up), x="x", y="y", color=colors["up"], s=8, linewidth=0, ax=ax, legend=False)
    lab = pd.DataFrame({"name": names, "x": lx, "y": ly})
    lab["kind"] = np.where(lab["name"] == "CENPA", "ref", np.where(lab["x"] > 0, "up", "down"))
    sns.scatterplot(data=lab, x="x", y="y", hue="kind", s=6, linewidth=0, ax=ax, legend=False,
                    palette={"ref": "black", "up": colors["dark_up"], "down": colors["dark_down"]})
    for _, r in lab.iterrows():
        left = r["name"] in left_names
        ax.annotate(r["name"], (r["x"], r["y"]), xytext=(-2 if left else 2, 0), textcoords="offset points",
                    fontsize=4.6, va="center", ha="right" if left else "left", color="#222222")
    ax.set_xlim(*xlim)
    ax.set_ylim(0, 10)
    ax.set_xticks(range(-6, 11, 2))
    ax.set_yticks(range(0, 11, 2))
    ax.set_ylabel("-Log$_{10}$ (p-value)", fontsize=7.5, labelpad=2)
    finish(ax)


axd = fig.add_axes(px_rect(282, 463, 447, 608))
volcano(axd, d_grey, d_down, d_up, d_label_names, d_label_x, d_label_y,
        {"down": "#6AAEEA", "up": "#2BE02B", "dark_up": "#2A6A2A", "dark_down": "#1F3552"},
        {"BAG2", "CENPH", "CENPQ"}, (-6, 10.8))
axd.set_xlabel("Log$_2$ (LFQ Chromatin CENPA siDNAJC9/siCTRL)$_{\\mathrm{B.N.}}$", fontsize=6, labelpad=3)
axd.text(-5.5, 10.0, "S0 = 0.1\nFDR = 0.05", fontsize=6.5, va="top", linespacing=1.15)
axd.text(-5.6, 7.8, f"Depleted in\nsiDNAJC9\ncondition:\n{d_counts[0]} proteins", fontsize=5.8,
         color="#2F86C6", va="top", linespacing=1.15)
axd.text(6.3, 3.38, f"Enriched in\nsiDNAJC9\ncondition:\n{d_counts[1]} proteins", fontsize=5.8,
         color="#2EA83A", va="top", linespacing=1.15)

axe = fig.add_axes(px_rect(512, 463, 683, 608))
volcano(axe, e_grey, e_down, e_up, e_label_names, e_label_x, e_label_y,
        {"down": "#C46CEA", "up": "#FFA54A", "dark_up": "#7A5230", "dark_down": "#3D1F4F"},
        {"CENPP", "CENPN", "CENPU", "HJURP", "CENPM", "CENPH", "CENPQ", "CENPC"}, (-6, 10.4))
axe.set_xlabel("Log$_2$ (LFQ Chromatin CENPA siCAF1B/siCTRL)$_{\\mathrm{B.N.}}$", fontsize=6, labelpad=3)
axe.text(-5.24, 10.0, "S0 = 0.1\nFDR = 0.05", fontsize=6.5, va="top", linespacing=1.15)
axe.text(-5.24, 7.8, f"Depleted in\nsiCAF1B\ncondition:\n{e_counts[0]} proteins", fontsize=5.8,
         color="#B463E6", va="top", linespacing=1.15)
axe.text(6.8, 7.18, f"Enriched in\nsiCAF1B\ncondition:\n{e_counts[1]} proteins", fontsize=5.8,
         color="#F39A3A", va="top", linespacing=1.15)

# ---------------- overlay: text, letters, venns
ov = fig.add_axes([0, 0, 1, 1])
ov.set_xlim(0, W)
ov.set_ylim(H, 0)
ov.axis("off")

for letter, (lx_, ly_) in zip("ABCDEFG", [(11, 12), (11, 197), (12, 434), (246, 434), (480, 434),
                                          (12, 663), (290, 672)]):
    ov.text(lx_, ly_, letter, fontsize=12.5, ha="center", va="center")

fs_a = 6.5
ov.text(24, 20, workflow_title, fontsize=fs_a, va="center")
renderer = fig.canvas.get_renderer()
for k, step in enumerate(workflow_steps):
    y = 44 + k * 26
    if isinstance(step, tuple):
        x = 24
        for j, part in enumerate(step):
            t = ov.text(x, y, part, fontsize=fs_a, va="center")
            w = t.get_window_extent(renderer=renderer).width
            if j == 1:
                ov.plot([x, x + w], [y + 5, y + 5], color="#333333", lw=0.5)
            x += w
    else:
        ov.text(24, y, step, fontsize=fs_a, va="center")

ov.text(40, 197, "Chromatin CENPA IP-MS", fontsize=6.5, va="center")

# F venn: radius ~ sqrt(set size)
kf = 3.66
f_sets = {
    "caf1b_down": ((184.5, 756), f_shared_down + f_caf1b_down_only + f_up_down, "#F4DDF3"),
    "dnajc9_up": ((82, 765), f_shared_up + f_dnajc9_up_only + f_up_down, "#D4F6C9"),
    "caf1b_up": ((55, 754), f_caf1b_up_only + f_shared_up, "#FBE3D6"),
    "dnajc9_down": ((174, 703), f_dnajc9_down_only + f_shared_down, "#DDE6F8"),
}
circ = {}
for name, (c, n, col) in f_sets.items():
    circ[name] = Circle(c, kf * np.sqrt(n), facecolor=col, edgecolor="none")
    ov.add_patch(circ[name])
for a, b, col in [("caf1b_up", "dnajc9_up", "white"), ("dnajc9_down", "caf1b_down", "#E7E1F5"),
                  ("dnajc9_up", "caf1b_down", "#E3E3D6")]:
    p = Circle(circ[a].center, circ[a].radius, facecolor=col, edgecolor="none")
    ov.add_patch(p)
    p.set_clip_path(circ[b])
for name in f_sets:
    ov.add_patch(Circle(circ[name].center, circ[name].radius, facecolor="none", edgecolor="#555555", lw=0.6))

fs_f = 6.8
ov.text(20, 732, "siCAF1B\nenriched", fontsize=fs_f, ha="center", va="center", linespacing=1.05)
ov.text(82, 703.5, "siDNAJC9\nenriched", fontsize=fs_f, ha="center", va="center", linespacing=1.05)
ov.plot([82, 82], [714, 721.5], color="#555555", lw=0.5)
ov.text(210, 677.5, "siDNAJC9\ndepleted", fontsize=fs_f, ha="center", va="center", linespacing=1.05)
ov.plot([188.5, 185], [679, 684], color="#555555", lw=0.5)
for txt, (tx, ty) in [(f_dnajc9_down_only, (166, 687)), (f_shared_down, (175, 714)),
                      (f_caf1b_up_only, (38, 762)), (f_shared_up, (56, 762)), (f_dnajc9_up_only, (91, 764)),
                      (f_up_down, (123, 762)), (f_caf1b_down_only, (184, 766))]:
    ov.text(tx, ty, str(txt), fontsize=fs_f, ha="center", va="center")
ov.text(184, 796, "siCAF1B\ndepleted", fontsize=fs_f, ha="center", va="center", linespacing=1.2)

# G venn
kg = 1.887
chrom = Circle((381, 752), kg * np.sqrt(g_chromatin_only + g_shared), facecolor="#B3B3B3", edgecolor="none")
sol = Circle((431, 753), kg * np.sqrt(g_soluble_only + g_shared), facecolor="white", edgecolor="none")
ov.add_patch(chrom)
ov.add_patch(sol)
shared = Circle(chrom.center, chrom.radius, facecolor="#DEDEDE", edgecolor="none")
ov.add_patch(shared)
shared.set_clip_path(sol)
for c in (chrom, sol):
    ov.add_patch(Circle(c.center, c.radius, facecolor="none", edgecolor="#555555", lw=0.6))
ov.text(403, 673, "Proteins significantly enriched over beads", fontsize=6.3, ha="center", va="center")
fs_g = 8.2
ov.text(347, 740, "Chromatin", fontsize=fs_g, ha="center", va="center")
ov.text(356, 758, str(g_chromatin_only), fontsize=fs_g, ha="center", va="center")
ov.text(406, 740, "Shared", fontsize=fs_g, ha="center", va="center")
ov.text(409, 758, str(g_shared), fontsize=fs_g, ha="center", va="center")
ov.text(468, 746, "Soluble", fontsize=fs_g, ha="center", va="center")
ov.text(459, 758, str(g_soluble_only), fontsize=fs_g, ha="center", va="center")

fig.savefig("out.png", dpi=100)
